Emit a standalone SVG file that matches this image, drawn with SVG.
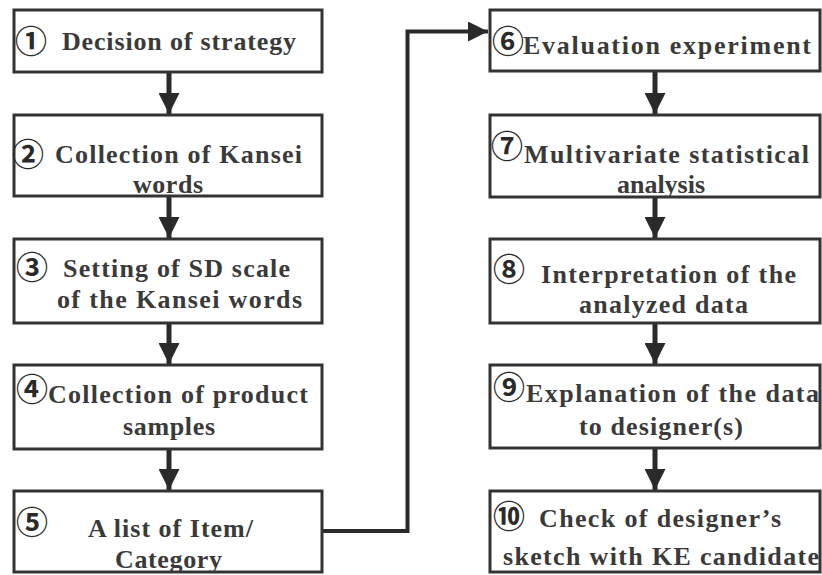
<svg xmlns="http://www.w3.org/2000/svg" width="822" height="575" viewBox="0 0 822 575">
<defs>
<style>
.box{fill:#fff;stroke:#333;stroke-width:3}
.t{font-size:26px;fill:#3a3a3a}
.n{font-size:32px;fill:#2a2a2a;text-anchor:middle}
.c{fill:none;stroke:#2a2a2a;stroke-width:5}
.c2{fill:none;stroke:#2a2a2a;stroke-width:4}
</style>
<marker id="ah" viewBox="0 0 10 10" refX="10" refY="5" markerWidth="4.2" markerHeight="4.2" markerUnits="strokeWidth" orient="auto">
<path d="M0,0 L10,5 L0,10 z" fill="#2a2a2a"/>
</marker>
<marker id="ah2" viewBox="0 0 10 10" refX="10" refY="5" markerWidth="5" markerHeight="5" markerUnits="strokeWidth" orient="auto">
<path d="M0,0 L10,5 L0,10 z" fill="#2a2a2a"/>
</marker>
</defs>
<rect width="822" height="575" fill="#fff"/>
<g id="connectors">
<line class="c" x1="169" y1="73" x2="169" y2="114" marker-end="url(#ah)"/>
<line class="c" x1="169" y1="197" x2="169" y2="238" marker-end="url(#ah)"/>
<line class="c" x1="169" y1="324" x2="169" y2="364" marker-end="url(#ah)"/>
<line class="c" x1="169" y1="450" x2="169" y2="490" marker-end="url(#ah)"/>
<line class="c" x1="655" y1="72" x2="655" y2="114" marker-end="url(#ah)"/>
<line class="c" x1="655" y1="198" x2="655" y2="238" marker-end="url(#ah)"/>
<line class="c" x1="655" y1="324" x2="655" y2="364" marker-end="url(#ah)"/>
<line class="c" x1="655" y1="449" x2="655" y2="490" marker-end="url(#ah)"/>
<path class="c2" d="M323,531 H407.5 V31.5 H488" marker-end="url(#ah2)"/>
</g>
<g id="nodes" font-weight="bold" font-family="Liberation Serif, serif">
<g id="node1">
<rect class="box" x="14" y="10" width="308" height="62"/>
<text class="n" font-family="Noto Sans CJK JP, sans-serif" x="31" y="53">①</text>
<text class="t" x="62" y="50" textLength="234" lengthAdjust="spacing">Decision  of strategy</text>
</g>
<g id="node2">
<rect class="box" x="14" y="115" width="308" height="81"/>
<text class="n" font-family="Noto Sans CJK JP, sans-serif" x="28" y="166">②</text>
<text class="t" x="55" y="163" textLength="247" lengthAdjust="spacing">Collection  of Kansei</text>
<text class="t" x="133" y="193" textLength="70" lengthAdjust="spacing">words</text>
</g>
<g id="node3">
<rect class="box" x="14" y="239" width="308" height="84"/>
<text class="n" font-family="Noto Sans CJK JP, sans-serif" x="32" y="279">③</text>
<text class="t" x="63" y="277" textLength="227" lengthAdjust="spacing">Setting  of SD scale</text>
<text class="t" x="57" y="308" textLength="245" lengthAdjust="spacing">of the Kansei  words</text>
</g>
<g id="node4">
<rect class="box" x="14" y="365" width="308" height="84"/>
<text class="n" font-family="Noto Sans CJK JP, sans-serif" x="32" y="401">④</text>
<text class="t" x="48" y="403" textLength="260" lengthAdjust="spacing">Collection  of product</text>
<text class="t" x="123" y="435" textLength="92" lengthAdjust="spacing">samples</text>
</g>
<g id="node5">
<rect class="box" x="14" y="491" width="308" height="81"/>
<text class="n" font-family="Noto Sans CJK JP, sans-serif" x="32" y="534">⑤</text>
<text class="t" x="88" y="537" textLength="165" lengthAdjust="spacing">A list  of Item/</text>
<text class="t" x="115" y="568" textLength="107" lengthAdjust="spacing">Category</text>
</g>
<g id="node6">
<rect class="box" x="490" y="10" width="330" height="61"/>
<text class="n" font-family="Noto Sans CJK JP, sans-serif" x="508" y="53">⑥</text>
<text class="t" x="523" y="54" textLength="288" lengthAdjust="spacing">Evaluation  experiment</text>
</g>
<g id="node7">
<rect class="box" x="490" y="115" width="330" height="82"/>
<text class="n" font-family="Noto Sans CJK JP, sans-serif" x="507" y="158">⑦</text>
<text class="t" x="524" y="163" textLength="285" lengthAdjust="spacing">Multivariate statistical</text>
<text class="t" x="661" y="193" text-anchor="middle">analysis</text>
</g>
<g id="node8">
<rect class="box" x="490" y="239" width="330" height="84"/>
<text class="n" font-family="Noto Sans CJK JP, sans-serif" x="509" y="281">⑧</text>
<text class="t" x="541" y="283" textLength="255" lengthAdjust="spacing">Interpretation  of the</text>
<text class="t" x="579" y="313" textLength="169" lengthAdjust="spacing">analyzed  data</text>
</g>
<g id="node9">
<rect class="box" x="490" y="365" width="330" height="83"/>
<text class="n" font-family="Noto Sans CJK JP, sans-serif" x="509" y="399">⑨</text>
<text class="t" x="526" y="402" textLength="293" lengthAdjust="spacing">Explanation  of the data</text>
<text class="t" x="579" y="435" textLength="164" lengthAdjust="spacing">to designer(s)</text>
</g>
<g id="node10">
<rect class="box" x="490" y="491" width="330" height="81"/>
<text class="n" font-family="Noto Sans CJK JP, sans-serif" x="509" y="528">⑩</text>
<text class="t" x="539" y="527" textLength="242" lengthAdjust="spacing">Check  of designer’s</text>
<text class="t" x="503" y="565" textLength="316" lengthAdjust="spacing">sketch  with KE candidate</text>
</g>
</g>
</svg>
